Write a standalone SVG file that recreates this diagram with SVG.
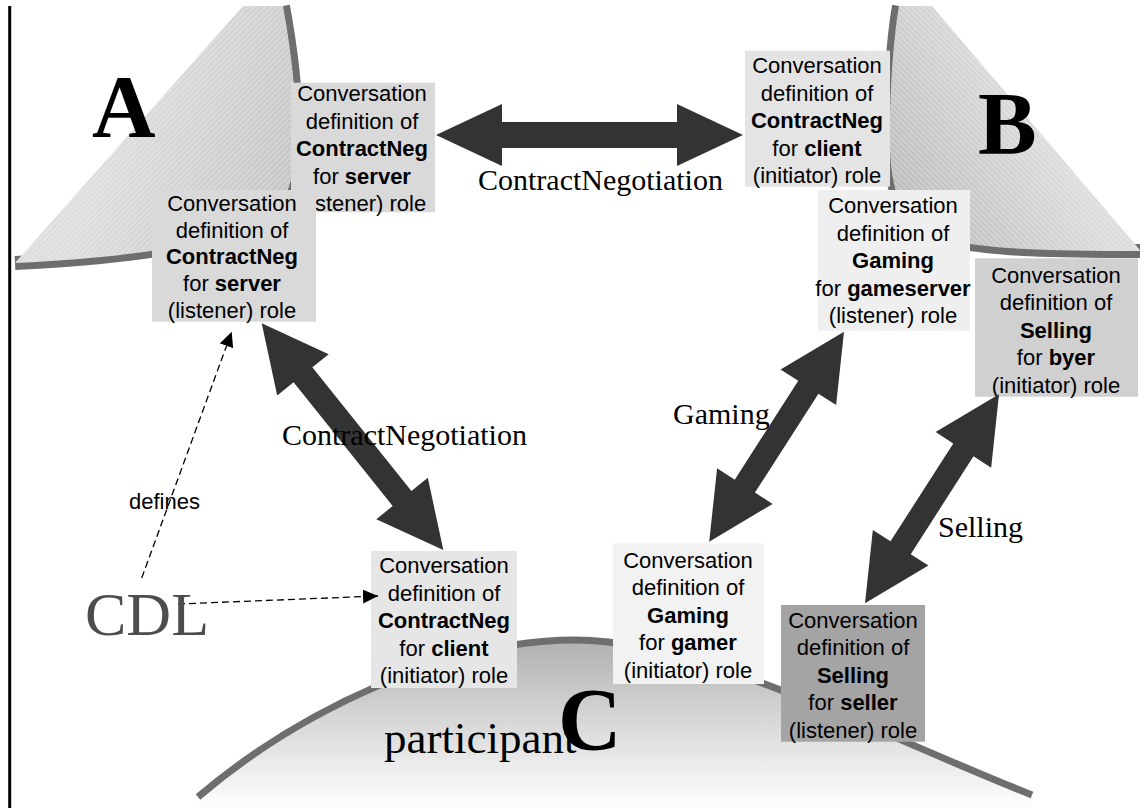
<svg xmlns="http://www.w3.org/2000/svg" width="1140" height="808" viewBox="0 0 1140 808">
  <style>
    .box { font-family: "Liberation Sans", Arial, sans-serif; font-size: 22px; fill: #000; text-anchor: middle; }
    .b { font-weight: bold; }
    .flow { font-family: "Liberation Serif", "Times New Roman", serif; font-size: 30px; fill: #000; }
    .big { font-family: "Liberation Serif", "Times New Roman", serif; font-size: 88px; font-weight: bold; fill: #000; }
    .block { fill: #333333; }
    .dash { fill: none; stroke: #000; stroke-width: 1.3; stroke-dasharray: 7 4; marker-end: url(#tip); }
    .rim { fill: none; stroke: #6e6e6e; stroke-width: 14; }
  </style>
  <defs>
    <marker id="tip" markerWidth="15" markerHeight="14" refX="15" refY="7" orient="auto" markerUnits="userSpaceOnUse">
      <path d="M0,0 L15,7 L0,14 Z" fill="#000"/>
    </marker>
    <linearGradient id="shadeA" gradientUnits="userSpaceOnUse" x1="120" y1="130" x2="295" y2="200">
      <stop offset="0" stop-color="#dddddd"/>
      <stop offset="1" stop-color="#c4c4c4"/>
    </linearGradient>
    <linearGradient id="shadeB" gradientUnits="userSpaceOnUse" x1="1035" y1="115" x2="893" y2="200">
      <stop offset="0" stop-color="#dcdcdc"/>
      <stop offset="1" stop-color="#bbbbbb"/>
    </linearGradient>
    <linearGradient id="shadeC" gradientUnits="userSpaceOnUse" x1="0" y1="640" x2="0" y2="805">
      <stop offset="0" stop-color="#b0b0b0"/>
      <stop offset="0.55" stop-color="#dcdcdc"/>
      <stop offset="1" stop-color="#fdfdfd"/>
    </linearGradient>
    <pattern id="hatchA" width="4" height="4" patternUnits="userSpaceOnUse" patternTransform="rotate(-45)">
      <rect width="4" height="1.2" fill="#ffffff" opacity="0.3"/>
    </pattern>
    <pattern id="hatchB" width="4" height="4" patternUnits="userSpaceOnUse" patternTransform="rotate(45)">
      <rect width="4" height="1.2" fill="#ffffff" opacity="0.3"/>
    </pattern>
  </defs>

  <rect width="1140" height="808" fill="#ffffff"/>

  <!-- margin rule -->
  <line x1="9.7" y1="6" x2="9.7" y2="808" stroke="#000" stroke-width="3"/>

  <!-- participant A -->
  <g id="participant-A">
    <path class="rim" d="M283 6 C300 100 300 170 285 195 C260 235 180 255 15 263"/>
    <path d="M15 263 L243 6 L283 6 C300 100 300 170 285 195 C260 235 180 255 15 263 Z" fill="url(#shadeA)"/>
    <path d="M15 263 L243 6 L283 6 C300 100 300 170 285 195 C260 235 180 255 15 263 Z" fill="url(#hatchA)"/>
    <text class="big" x="92" y="136">A</text>
  </g>

  <!-- participant B -->
  <g id="participant-B">
    <path class="rim" d="M899 6 C893 40 889 100 890 150 C892 200 905 228 950 240 C990 250 1060 251 1140 251"/>
    <path d="M899 6 L932 6 L1140 250 L1140 251 C1060 251 990 250 950 240 C905 228 892 200 890 150 C889 100 893 40 899 6 Z" fill="url(#shadeB)"/>
    <path d="M899 6 L932 6 L1140 250 L1140 251 C1060 251 990 250 950 240 C905 228 892 200 890 150 C889 100 893 40 899 6 Z" fill="url(#hatchB)"/>
    <text class="big" x="978" y="153">B</text>
  </g>

  <!-- participant C -->
  <g id="participant-C">
    <path d="M198 797 C300 710 450 640 575 640 C700 640 880 735 1032 795 L1032 808 L198 808 Z" fill="url(#shadeC)"/>
    <path d="M198 797 C300 710 450 640 575 640 C700 640 880 735 1032 795" fill="none" stroke="#6e6e6e" stroke-width="7"/>
    <text x="384" y="753" font-family="Liberation Serif, Times New Roman, serif" font-size="45" fill="#000">participant</text>
    <text class="big" x="558" y="749">C</text>
  </g>

  <!-- conversation definitions held by A -->
  <g id="a-contractneg-server-1">
    <rect x="291" y="82.7" width="144" height="129.6" fill="#d9d9d9"/>
    <text class="box" x="362" y="101">Conversation</text>
    <text class="box" x="362" y="128.5">definition of</text>
    <text class="box b" x="362" y="156">ContractNeg</text>
    <text class="box" x="362" y="183.5">for <tspan class="b">server</tspan></text>
    <text class="box" x="362" y="211">(listener) role</text>
  </g>
  <g id="a-contractneg-server-2">
    <rect x="152" y="190" width="164" height="131.7" fill="#d9d9d9"/>
    <text class="box" x="232" y="211">Conversation</text>
    <text class="box" x="232" y="237.7">definition of</text>
    <text class="box b" x="232" y="264.4">ContractNeg</text>
    <text class="box" x="232" y="291.1">for <tspan class="b">server</tspan></text>
    <text class="box" x="232" y="317.8">(listener) role</text>
  </g>

  <!-- conversation definitions held by B -->
  <g id="b-contractneg-client">
    <rect x="745" y="50.7" width="145" height="136" fill="#e4e4e4"/>
    <text class="box" x="817" y="73">Conversation</text>
    <text class="box" x="817" y="100.5">definition of</text>
    <text class="box b" x="817" y="128">ContractNeg</text>
    <text class="box" x="817" y="155.5">for <tspan class="b">client</tspan></text>
    <text class="box" x="817" y="183">(initiator) role</text>
  </g>
  <g id="b-gaming-gameserver">
    <rect x="818" y="190" width="152" height="140.7" fill="#efefef"/>
    <text class="box" x="893" y="213">Conversation</text>
    <text class="box" x="893" y="240.5">definition of</text>
    <text class="box b" x="893" y="268">Gaming</text>
    <text class="box" x="893" y="295.5">for <tspan class="b">gameserver</tspan></text>
    <text class="box" x="893" y="323">(listener) role</text>
  </g>
  <g id="b-selling-byer">
    <rect x="975" y="258.3" width="163" height="138.4" fill="#d0d0d0"/>
    <text class="box" x="1056" y="282.5">Conversation</text>
    <text class="box" x="1056" y="310">definition of</text>
    <text class="box b" x="1056" y="337.5">Selling</text>
    <text class="box" x="1056" y="365">for <tspan class="b">byer</tspan></text>
    <text class="box" x="1056" y="392.5">(initiator) role</text>
  </g>

  <!-- conversation definitions held by C -->
  <g id="c-contractneg-client">
    <rect x="371" y="551" width="146" height="137" fill="#e6e6e6"/>
    <text class="box" x="444" y="573">Conversation</text>
    <text class="box" x="444" y="600.5">definition of</text>
    <text class="box b" x="444" y="628">ContractNeg</text>
    <text class="box" x="444" y="655.5">for <tspan class="b">client</tspan></text>
    <text class="box" x="444" y="683">(initiator) role</text>
  </g>
  <g id="c-gaming-gamer">
    <rect x="613" y="543.3" width="151" height="140.7" fill="#f2f2f2"/>
    <text class="box" x="688" y="567.5">Conversation</text>
    <text class="box" x="688" y="595">definition of</text>
    <text class="box b" x="688" y="622.5">Gaming</text>
    <text class="box" x="688" y="650">for <tspan class="b">gamer</tspan></text>
    <text class="box" x="688" y="677.5">(initiator) role</text>
  </g>
  <g id="c-selling-seller">
    <rect x="781" y="605" width="144" height="136.7" fill="#a4a4a4"/>
    <text class="box" x="853" y="627.5">Conversation</text>
    <text class="box" x="853" y="655">definition of</text>
    <text class="box b" x="853" y="682.5">Selling</text>
    <text class="box" x="853" y="710">for <tspan class="b">seller</tspan></text>
    <text class="box" x="853" y="737.5">(listener) role</text>
  </g>

  <!-- connectors -->
  <g id="connectors">
    <!-- ContractNegotiation between A and B -->
    <path class="block" transform="translate(436 135)" d="M0 0 L66 -31 L66 -13 L241 -13 L241 -31 L307 0 L241 31 L241 13 L66 13 L66 31 Z"/>
    <!-- ContractNegotiation between A and C -->
    <path class="block" transform="translate(261.7 323.3) rotate(51.3)" d="M0 0 L66 -33 L66 -12 L224.5 -12 L224.5 -33 L290.5 0 L224.5 33 L224.5 12 L66 12 L66 33 Z"/>
    <!-- Gaming between B and C -->
    <path class="block" transform="translate(844 331.7) rotate(122.7)" d="M0 0 L66 -33 L66 -12 L183.5 -12 L183.5 -33 L249.5 0 L183.5 33 L183.5 12 L66 12 L66 33 Z"/>
    <!-- Selling between B and C -->
    <path class="block" transform="translate(999 394.3) rotate(122.66)" d="M0 0 L66 -33 L66 -12 L182.3 -12 L182.3 -33 L248.3 0 L182.3 33 L182.3 12 L66 12 L66 33 Z"/>

    <!-- CDL defines the conversation definitions -->
    <path class="dash" d="M141.7 578 L231.7 331.7"/>
    <path class="dash" d="M178 604 L378 596"/>

    <text class="flow" x="478" y="190">ContractNegotiation</text>
    <text class="flow" x="282" y="445">ContractNegotiation</text>
    <text class="flow" x="673" y="424">Gaming</text>
    <text class="flow" x="938" y="537">Selling</text>
    <text x="129" y="509" font-family="Liberation Sans, Arial, sans-serif" font-size="22" fill="#000">defines</text>
  </g>

  <g id="cdl">
    <text x="85" y="635" font-family="Liberation Serif, Times New Roman, serif" font-size="62" fill="#4d4d4d">CDL</text>
  </g>
</svg>
